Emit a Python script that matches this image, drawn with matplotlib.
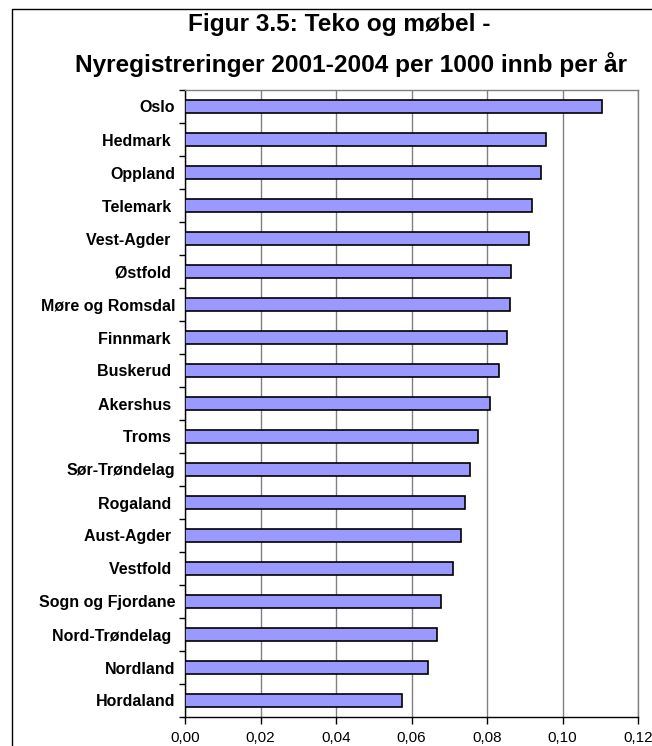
import matplotlib
matplotlib.use("Agg")
import matplotlib.pyplot as plt
from matplotlib.lines import Line2D

# -----------------------------
# Data (top to bottom as shown)
# -----------------------------
fylker = ["Oslo", "Hedmark ", "Oppland", "Telemark ", "Vest-Agder ", "Østfold ",
          "Møre og Romsdal", "Finnmark ", "Buskerud ", "Akershus ", "Troms ",
          "Sør-Trøndelag", "Rogaland ", "Aust-Agder ", "Vestfold ",
          "Sogn og Fjordane", "Nord-Trøndelag ", "Nordland", "Hordaland"]
verdier = [0.1105, 0.0957, 0.0942, 0.0919, 0.0912, 0.0864, 0.0860, 0.0852,
           0.0831, 0.0808, 0.0775, 0.0756, 0.0742, 0.0730, 0.0711, 0.0678,
           0.0668, 0.0645, 0.0574]
xticks = [0.00, 0.02, 0.04, 0.06, 0.08, 0.10, 0.12]

plt.rcParams['font.family'] = ['Liberation Sans', 'DejaVu Sans']

fig = plt.figure(figsize=(6.52, 7.46), dpi=100)
ax = fig.add_axes([185/652, 1 - 717/746, 453/652, 627/746])

pos = list(range(len(fylker)))
ax.barh(pos, verdier, height=0.4, color="#9999FF", edgecolor="black",
        linewidth=1.2, zorder=3)

ax.set_ylim(len(fylker) - 0.5, -0.5)
ax.set_xlim(0, 0.12)

# category labels, ticks at boundaries
ax.set_yticks(pos)
ax.set_yticklabels(fylker, fontsize=11.5, fontweight="bold")
ax.set_yticks([p + 0.5 for p in range(-1, len(fylker))], minor=True)
ax.tick_params(axis="y", which="major", length=0, pad=7)
ax.tick_params(axis="y", which="minor", length=4, width=1, color="black")

ax.set_xticks(xticks)
ax.set_xticklabels([f"{v:.2f}".replace(".", ",") for v in xticks], fontsize=11)
ax.tick_params(axis="x", length=5, width=1, pad=5)

ax.grid(axis="x", color="#808080", linewidth=1, zorder=0)
ax.spines["left"].set_color("black")
ax.spines["bottom"].set_color("black")
ax.spines["top"].set_color("#808080")
ax.spines["right"].set_color("#808080")
for s in ax.spines.values():
    s.set_linewidth(1)

# title, two lines
fig.text(339/652, 1 - 31/746, "Figur 3.5: Teko og møbel -", ha="center",
         va="baseline", fontsize=17.6, fontweight="bold")
fig.text(351/652, 1 - 72/746, "Nyregistreringer 2001-2004 per 1000 innb per år",
         ha="center", va="baseline", fontsize=17.6, fontweight="bold")

# outer chart frame (runs off right and bottom edge)
fig.add_artist(Line2D([12/652, 12/652, 1.0], [0.0, 1 - 9/746, 1 - 9/746],
                      transform=fig.transFigure, color="black", linewidth=1))

fig.savefig("out.png", dpi=100)
